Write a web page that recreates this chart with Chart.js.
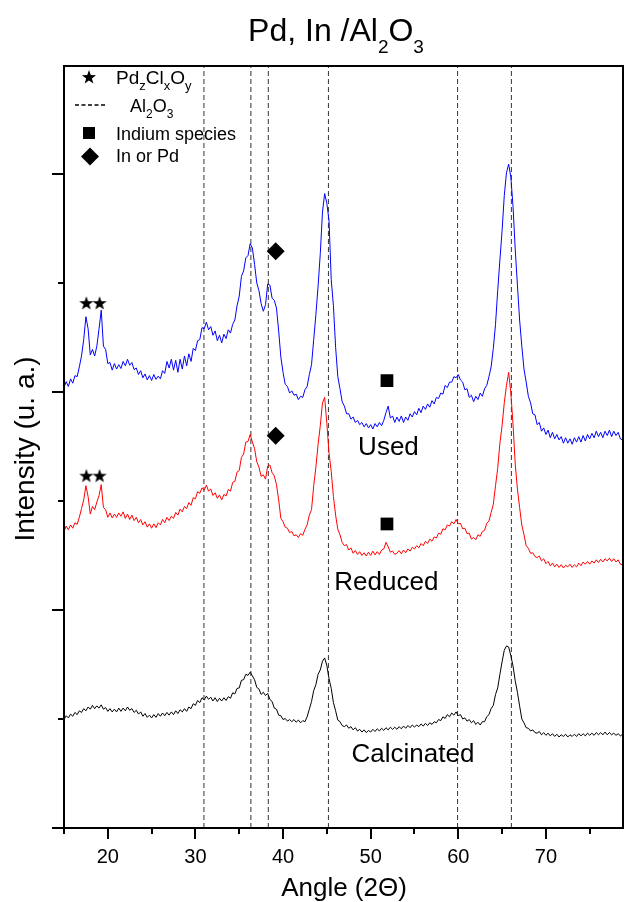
<!DOCTYPE html>
<html>
<head>
<meta charset="utf-8">
<script src="https://cdn.jsdelivr.net/npm/chart.js@4.4.1/dist/chart.umd.min.js"></script>
<style>
  html, body { margin: 0; padding: 0; background: #fff; }
  #wrap { width: 624px; height: 902px; }
</style>
</head>
<body>
<div id="wrap"><canvas id="xrd" width="624" height="902"></canvas></div>
<script>
// XRD patterns, one value every 0.25 deg starting at 15 deg
const startAngle = 15;
const angleStep = 0.25;

const usedCounts = [
  4040,4095,4050,4120,4080,4150,4140,4230,
  4330,4480,4690,4580,4340,4390,4330,4420,
  4580,4750,4420,4390,4260,4270,4200,4260,
  4210,4250,4215,4280,4240,4300,4245,4270,
  4205,4220,4160,4195,4130,4165,4110,4150,
  4105,4160,4115,4145,4120,4195,4170,4280,
  4220,4300,4200,4290,4180,4300,4210,4330,
  4240,4350,4280,4400,4380,4470,4480,4590,
  4580,4640,4570,4600,4520,4560,4470,4520,
  4450,4530,4490,4570,4540,4620,4660,4790,
  4880,5060,5110,5230,5250,5360,5320,5170,
  5000,4930,4810,4740,4800,4990,4980,4860,
  4840,4770,4560,4320,4180,4070,4050,3990,
  4010,3970,3980,3930,3960,3950,4020,4050,
  4160,4250,4480,4710,4970,5270,5650,5820,
  5730,5570,5030,4790,4410,4140,4030,3910,
  3870,3800,3800,3750,3770,3720,3740,3700,
  3720,3680,3710,3670,3700,3660,3710,3680,
  3720,3690,3740,3810,3870,3760,3780,3720,
  3770,3730,3780,3720,3770,3740,3800,3770,
  3820,3790,3850,3810,3870,3840,3890,3860,
  3920,3890,3950,3940,3990,3980,4060,4040,
  4090,4090,4140,4130,4160,4110,4090,4020,
  4030,3950,3970,3910,3960,3930,3990,3960,
  4030,4060,4140,4230,4400,4620,4930,5210,
  5480,5800,6010,6090,5970,5700,5310,4980,
  4660,4420,4210,4090,3960,3900,3800,3790,
  3700,3720,3640,3670,3610,3650,3580,3630,
  3570,3610,3560,3590,3530,3580,3530,3570,
  3520,3580,3540,3590,3540,3600,3550,3610,
  3570,3620,3580,3640,3590,3630,3580,3640,
  3600,3650,3590,3640,3600,3630,3570,3560
];

const reducedCounts = [
  2720,2770,2735,2780,2750,2800,2785,2850,
  2930,3010,3140,3040,2880,2950,2920,2990,
  3050,3150,2940,2920,2850,2890,2845,2880,
  2850,2890,2860,2900,2840,2880,2830,2870,
  2820,2850,2800,2830,2780,2810,2760,2790,
  2750,2790,2755,2800,2780,2830,2800,2850,
  2820,2860,2840,2895,2870,2925,2900,2950,
  2930,2985,2960,3030,3020,3085,3070,3120,
  3100,3145,3090,3110,3050,3075,3025,3055,
  3010,3060,3045,3105,3090,3170,3180,3265,
  3280,3400,3430,3540,3545,3610,3540,3480,
  3360,3310,3225,3240,3200,3320,3330,3260,
  3230,3150,3010,2840,2810,2760,2750,2710,
  2720,2680,2690,2665,2700,2685,2740,2780,
  2870,2920,3140,3310,3520,3690,3900,3950,
  3710,3440,3270,3040,2870,2740,2690,2620,
  2590,2600,2550,2570,2520,2545,2510,2535,
  2500,2525,2495,2530,2500,2540,2505,2535,
  2510,2550,2560,2620,2580,2530,2540,2510,
  2520,2545,2515,2550,2525,2560,2540,2575,
  2560,2590,2570,2610,2590,2630,2610,2650,
  2630,2670,2660,2705,2695,2745,2735,2780,
  2770,2810,2790,2830,2790,2795,2745,2750,
  2700,2705,2650,2665,2645,2690,2675,2720,
  2730,2795,2815,2895,2970,3140,3300,3530,
  3690,3900,4060,4180,3990,3700,3340,3110,
  2940,2780,2690,2590,2565,2520,2525,2490,
  2480,2495,2450,2470,2425,2445,2405,2430,
  2395,2420,2390,2415,2385,2410,2395,2420,
  2390,2415,2395,2430,2405,2440,2420,2445,
  2420,2450,2430,2460,2435,2465,2440,2470,
  2450,2475,2445,2470,2440,2460,2420,2415
];

const calcinatedCounts = [
  995,1030,1010,1045,1025,1060,1040,1075,
  1060,1095,1075,1110,1090,1125,1095,1120,
  1100,1130,1090,1105,1070,1095,1065,1090,
  1065,1100,1070,1100,1075,1110,1080,1095,
  1060,1080,1045,1065,1025,1050,1015,1035,
  1010,1040,1015,1050,1025,1055,1030,1060,
  1035,1065,1040,1075,1050,1085,1065,1095,
  1070,1110,1095,1140,1125,1170,1150,1195,
  1175,1210,1180,1200,1165,1195,1160,1190,
  1165,1195,1170,1205,1190,1240,1230,1280,
  1285,1355,1360,1410,1400,1430,1395,1360,
  1290,1275,1225,1245,1215,1235,1180,1160,
  1100,1090,1035,1030,995,1005,980,995,
  975,995,970,990,965,985,975,1020,
  1090,1160,1260,1315,1410,1450,1530,1560,
  1490,1370,1280,1150,1075,990,975,940,
  930,945,915,930,900,920,890,905,
  880,900,875,895,880,905,885,910,
  890,915,895,920,900,925,905,925,
  905,930,910,935,915,940,920,945,
  925,945,930,955,935,960,940,965,
  950,975,965,995,985,1020,1005,1040,
  1020,1055,1035,1065,1030,1040,1000,1010,
  980,995,965,985,950,970,945,975,
  975,1020,1040,1095,1125,1225,1285,1410,
  1525,1630,1670,1660,1580,1485,1350,1245,
  1120,1000,965,920,915,890,900,875,
  870,885,855,875,850,870,845,865,
  840,860,835,855,840,860,835,855,
  840,860,840,865,845,865,845,870,
  850,870,850,875,855,875,855,880,
  855,875,855,870,850,865,845,860
];

// Al2O3 reference reflections (dashed lines)
const aluminaAngles = [30.97, 36.33, 38.32, 45.18, 59.92, 66.06];

// phase markers: [angle, intensity]
const starUsed = [[17.55, 4816], [19.06, 4816]];
const starReduced = [[17.55, 3232], [19.06, 3232]];
const diamondMarks = [[39.16, 5290], [39.16, 3599]];
const squareMarks = [[51.86, 4104], [51.86, 2789]];

// curve names written next to each pattern
const curveNames = ['Used', 'Reduced', 'Calcinated'];
const nameAngles = [52.03, 51.79, 54.83];
const nameCounts = [3425, 2186, 602];

// axes
const xMin = 15, xMax = 78.8;
const yMin = 0, yMax = 6990;
const xLabelTicks = [20, 30, 40, 50, 60, 70];
const xTickMarks = [15, 20, 25, 30, 35, 40, 45, 50, 55, 60, 65, 70, 75];
const yTickMarks = [0, 1000, 2000, 3000, 4000, 5000, 6000];

const FONT = '"Liberation Sans", Arial, Helvetica, sans-serif';

function toPoints(counts) {
  return counts.map((c, i) => ({ x: startAngle + i * angleStep, y: c }));
}

function starPath(ctx, cx, cy, outer, inner) {
  ctx.beginPath();
  for (let i = 0; i < 10; i++) {
    const r = i % 2 === 0 ? outer : inner;
    const a = -Math.PI / 2 + i * Math.PI / 5;
    const px = cx + r * Math.cos(a), py = cy + r * Math.sin(a);
    if (i === 0) ctx.moveTo(px, py); else ctx.lineTo(px, py);
  }
  ctx.closePath();
}

// filled five point star used as point style
const starImg = document.createElement('canvas');
starImg.width = 16; starImg.height = 16;
(() => {
  const c = starImg.getContext('2d');
  c.fillStyle = '#000';
  starPath(c, 8, 8.6, 7.4, 3.0);
  c.fill();
})();

function richText(ctx, parts, x, y, size, subSize, drop, align) {
  let w = 0;
  parts.forEach(p => {
    ctx.font = (p[1] ? subSize : size) + 'px ' + FONT;
    w += ctx.measureText(p[0]).width;
  });
  let cx = align === 'center' ? x - w / 2 : x;
  ctx.textAlign = 'left';
  ctx.textBaseline = 'alphabetic';
  parts.forEach(p => {
    ctx.font = (p[1] ? subSize : size) + 'px ' + FONT;
    ctx.fillText(p[0], cx, p[1] ? y + drop : y);
    cx += ctx.measureText(p[0]).width;
  });
}

function seg(ctx, x1, y1, x2, y2) {
  ctx.beginPath();
  ctx.moveTo(x1, y1);
  ctx.lineTo(x2, y2);
  ctx.stroke();
}

const overlay = {
  id: 'overlay',
  afterDraw(chart) {
    const { ctx, chartArea: a, scales: { x, y } } = chart;
    ctx.save();
    ctx.fillStyle = '#000';
    ctx.strokeStyle = '#000';

    // frame
    ctx.lineWidth = 2;
    ctx.strokeRect(a.left, a.top, a.right - a.left, a.bottom - a.top);

    // tick marks, outside
    xTickMarks.forEach(v => {
      const px = Math.round(x.getPixelForValue(v));
      seg(ctx, px, a.bottom, px, a.bottom + (v % 10 === 0 ? 11 : 6));
    });
    yTickMarks.forEach(v => {
      const py = Math.round(y.getPixelForValue(v));
      seg(ctx, a.left - (v % 2000 === 0 ? 12 : 6), py, a.left, py);
    });

    // title
    richText(ctx, [['Pd, In /Al'], ['2', 1], ['O'], ['3', 1]], 336, 41, 32, 19, 12, 'center');

    // axis titles
    ctx.font = '26px ' + FONT;
    ctx.textAlign = 'center';
    ctx.textBaseline = 'alphabetic';
    ctx.fillText('Angle (2\u0398)', 344, 896);
    ctx.save();
    ctx.translate(34, 449);
    ctx.rotate(-Math.PI / 2);
    ctx.font = '28px ' + FONT;
    ctx.fillText('Intensity (u. a.)', 0, 0);
    ctx.restore();

    // curve names
    ctx.font = '26px ' + FONT;
    curveNames.forEach((n, i) => {
      ctx.fillText(n, x.getPixelForValue(nameAngles[i]), y.getPixelForValue(nameCounts[i]));
    });

    // legend box content (top left of the plot)
    const lx = a.left + 25, tx = a.left + 52;
    starPath(ctx, lx, a.top + 11.5, 7.4, 3.0);
    ctx.fill();
    richText(ctx, [['Pd'], ['z', 1], ['Cl'], ['x', 1], ['O'], ['y', 1]], tx, a.top + 18, 19, 13, 6, 'left');

    ctx.lineWidth = 1.5;
    ctx.setLineDash([4, 2.5]);
    seg(ctx, a.left + 11, a.top + 39, a.left + 41, a.top + 39);
    ctx.setLineDash([]);
    richText(ctx, [['Al'], ['2', 1], ['O'], ['3', 1]], a.left + 66, a.top + 46, 18, 12, 6, 'left');

    ctx.fillRect(lx - 6, a.top + 61, 12, 12);
    ctx.font = '18px ' + FONT;
    ctx.textAlign = 'left';
    ctx.fillText('Indium species', tx, a.top + 74);

    ctx.beginPath();
    ctx.moveTo(lx + 1, a.top + 81.5);
    ctx.lineTo(lx + 10, a.top + 90.5);
    ctx.lineTo(lx + 1, a.top + 99.5);
    ctx.lineTo(lx - 8, a.top + 90.5);
    ctx.closePath();
    ctx.fill();
    ctx.fillText('In or Pd', tx, a.top + 96);

    ctx.restore();
  }
};

const markerSet = (pts, style, radius) => ({
  type: 'scatter',
  data: pts.map(p => ({ x: p[0], y: p[1] })),
  pointStyle: style,
  pointRadius: radius,
  backgroundColor: '#000',
  borderColor: '#000',
  borderWidth: 0,
  showLine: false
});

const traceSet = (counts, color) => ({
  type: 'line',
  data: toPoints(counts),
  borderColor: color,
  borderWidth: 1,
  pointRadius: 0,
  tension: 0,
  fill: false
});

const datasets = [
  markerSet(starUsed, starImg, 8),
  markerSet(starReduced, starImg, 8),
  markerSet(diamondMarks, 'rectRot', 9),
  markerSet(squareMarks, 'rect', 9),
  traceSet(usedCounts, '#0000ff'),
  traceSet(reducedCounts, '#ff0000'),
  traceSet(calcinatedCounts, '#000000')
];
aluminaAngles.forEach(ang => {
  datasets.push({
    type: 'line',
    data: [{ x: ang, y: yMin }, { x: ang, y: yMax }],
    borderColor: '#333',
    borderWidth: 1,
    borderDash: [5, 3],
    pointRadius: 0
  });
});

new Chart(document.getElementById('xrd'), {
  type: 'line',
  data: { datasets },
  options: {
    responsive: false,
    animation: false,
    devicePixelRatio: 1,
    events: [],
    layout: { autoPadding: false, padding: { top: 66, right: 1, left: 0, bottom: 0 } },
    plugins: { legend: { display: false }, title: { display: false }, tooltip: { enabled: false } },
    scales: {
      x: {
        type: 'linear',
        min: xMin,
        max: xMax,
        grid: { display: false, drawTicks: false },
        border: { display: false },
        afterBuildTicks: s => { s.ticks = xLabelTicks.map(v => ({ value: v })); },
        afterFit: s => { s.height = 74; s.paddingLeft = 0; s.paddingRight = 0; },
        ticks: {
          padding: 17,
          color: '#000',
          maxRotation: 0,
          font: { family: FONT, size: 20 },
          callback: v => String(v)
        }
      },
      y: {
        type: 'linear',
        min: yMin,
        max: yMax,
        grid: { display: false, drawTicks: false },
        border: { display: false },
        ticks: { display: false },
        afterFit: s => { s.width = 64; s.paddingTop = 0; s.paddingBottom = 0; }
      }
    }
  },
  plugins: [overlay]
});
</script>
</body>
</html>
